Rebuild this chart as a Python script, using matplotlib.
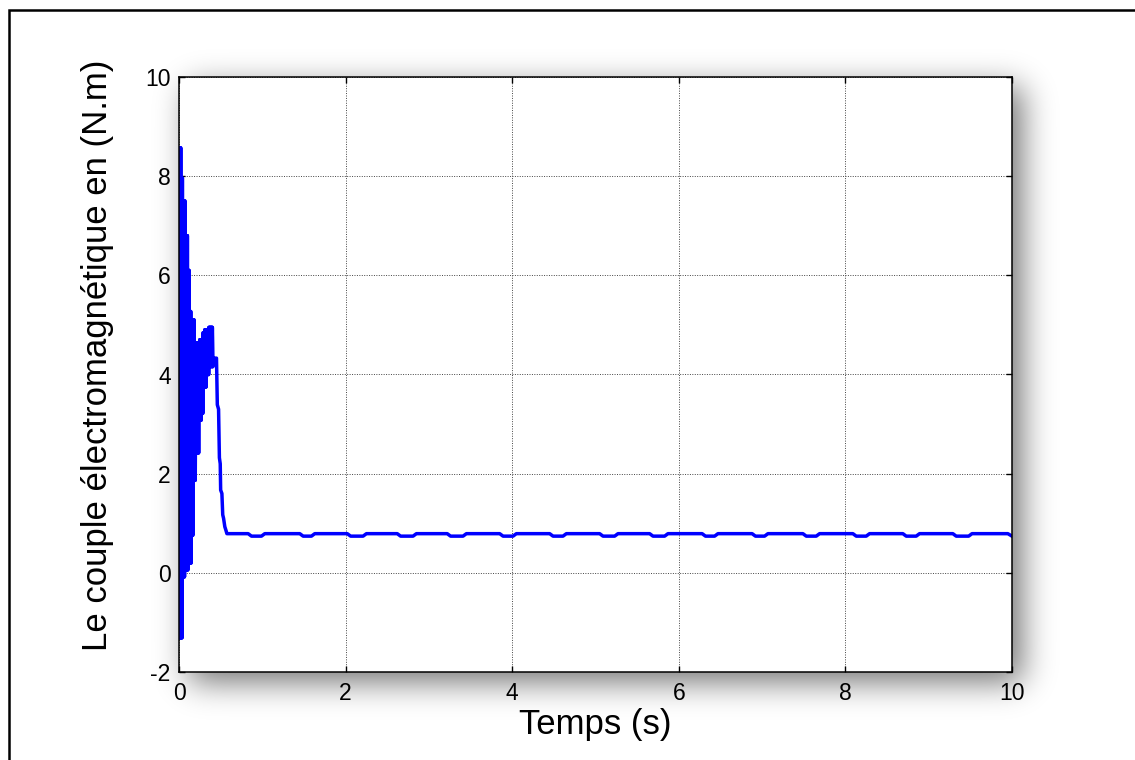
import numpy as np
import matplotlib
matplotlib.use("Agg")
import matplotlib.pyplot as plt
from matplotlib.collections import LineCollection

plt.rcParams['font.family'] = ['Liberation Sans', 'DejaVu Sans']
plt.rcParams['axes.unicode_minus'] = False
plt.rcParams['path.simplify'] = False

# --- data ---
# start-up: fast oscillation of the torque (s, N.m)
t_osc = [0.000, 0.005, 0.010, 0.015, 0.020, 0.025, 0.030, 0.035, 0.040, 0.045,
         0.050, 0.055, 0.060, 0.065, 0.070, 0.075, 0.080, 0.085, 0.090, 0.095,
         0.100, 0.105, 0.110, 0.115, 0.120, 0.125, 0.130, 0.135, 0.140, 0.145,
         0.150, 0.155, 0.160, 0.165, 0.170, 0.175, 0.180, 0.185, 0.190, 0.195,
         0.200, 0.205, 0.210, 0.215, 0.220, 0.225, 0.230, 0.235, 0.240, 0.245,
         0.250, 0.255, 0.260, 0.265, 0.270, 0.275, 0.280, 0.285, 0.290, 0.295,
         0.300, 0.305, 0.310, 0.315, 0.320, 0.325, 0.330, 0.335, 0.340, 0.345,
         0.350, 0.355, 0.360, 0.365, 0.370, 0.375, 0.380, 0.385, 0.390, 0.395,
         0.400, 0.405, 0.410]
te_osc = [8.57, -1.31, 8.57, -1.31, 8.57, -1.31, 7.96, -1.31, 7.96, -0.08,
          7.50, -0.08, 7.50, -0.08, 7.50, 0.06, 6.80, 0.06, 6.80, 0.06,
          6.80, 0.06, 6.10, 0.20, 6.10, 0.20, 5.27, 0.20, 5.27, 0.20,
          5.10, 0.76, 5.10, 0.76, 5.10, 1.87, 5.10, 1.87, 4.64, 1.87,
          4.64, 2.42, 4.64, 2.42, 4.64, 2.42, 4.64, 2.42, 4.64, 3.08,
          4.70, 3.08, 4.70, 3.08, 4.70, 3.22, 4.70, 3.22, 4.84, 3.75,
          4.84, 3.75, 4.90, 3.75, 4.90, 3.75, 4.90, 4.00, 4.90, 4.00,
          4.90, 4.00, 4.95, 4.16, 4.95, 4.16, 4.95, 4.16, 4.95, 4.16,
          4.95, 4.16, 4.33]

# drop towards steady state
t_drop = [0.450, 0.460, 0.475, 0.485, 0.495, 0.500, 0.515, 0.525, 0.535, 0.550, 0.565]
te_drop = [4.33, 3.39, 3.30, 2.32, 2.20, 1.67, 1.60, 1.17, 1.10, 0.93, 0.85]

# steady state with small ripple
t_ss = [0.575,
        0.83, 0.87, 0.99, 1.03,
        1.45, 1.49, 1.59, 1.63,
        2.02, 2.06, 2.21, 2.25,
        2.62, 2.66, 2.81, 2.85,
        3.22, 3.26, 3.41, 3.45,
        3.85, 3.89, 4.01, 4.05,
        4.45, 4.49, 4.61, 4.65,
        5.05, 5.09, 5.23, 5.27,
        5.65, 5.69, 5.83, 5.87,
        6.28, 6.32, 6.43, 6.47,
        6.88, 6.92, 7.03, 7.07,
        7.49, 7.53, 7.65, 7.69,
        8.09, 8.13, 8.25, 8.29,
        8.69, 8.73, 8.85, 8.89,
        9.29, 9.33, 9.48, 9.52,
        9.95, 10.0]
te_ss = [0.79,
         0.79, 0.74, 0.74, 0.79,
         0.79, 0.74, 0.74, 0.79,
         0.79, 0.74, 0.74, 0.79,
         0.79, 0.74, 0.74, 0.79,
         0.79, 0.74, 0.74, 0.79,
         0.79, 0.74, 0.74, 0.79,
         0.79, 0.74, 0.74, 0.79,
         0.79, 0.74, 0.74, 0.79,
         0.79, 0.74, 0.74, 0.79,
         0.79, 0.74, 0.74, 0.79,
         0.79, 0.74, 0.74, 0.79,
         0.79, 0.74, 0.74, 0.79,
         0.79, 0.74, 0.74, 0.79,
         0.79, 0.74, 0.74, 0.79,
         0.79, 0.74, 0.74, 0.79,
         0.79, 0.74]

x_ticks = [0, 2, 4, 6, 8, 10]
y_ticks = [-2, 0, 2, 4, 6, 8, 10]

t = np.array(t_osc + t_drop + t_ss)
te = np.array(te_osc + te_drop + te_ss)

# --- figure, pixel layout of the reference ---
W, H = 1135, 760
fig = plt.figure(figsize=(W / 100, H / 100), dpi=100)

ax_l, ax_r, ax_t, ax_b = 179, 1012, 77, 672

# background layer: soft drop shadow + page frame
bg = fig.add_axes([0, 0, 1, 1], zorder=-10)
bg.set_xlim(0, W)
bg.set_ylim(H, 0)
bg.axis('off')

mask = np.zeros((H, W))
off = 10
mask[ax_t + off:ax_b + off, ax_l + off:ax_r + off] = 1.0
sig = 16
k = np.exp(-0.5 * (np.arange(-3 * sig, 3 * sig + 1) / sig) ** 2)
k /= k.sum()
mask = np.apply_along_axis(lambda r: np.convolve(r, k, mode='same'), 1, mask)
mask = np.apply_along_axis(lambda c: np.convolve(c, k, mode='same'), 0, mask)
rgba = np.zeros((H, W, 4))
rgba[..., 3] = mask * 0.55
bg.imshow(rgba, extent=(0, W, H, 0), aspect='auto', interpolation='bilinear')

bg.plot([9, 9, W], [H, 10, 10], color='black', lw=1.8, solid_joinstyle='miter')

ax = fig.add_axes([ax_l / W, 1 - ax_b / H, (ax_r - ax_l) / W, (ax_b - ax_t) / H], zorder=1)
ax.set_facecolor('white')

ax.plot(t, te, color='#0000ff', lw=2.5, solid_joinstyle='round')
# the start-up oscillation as separate segments so the band fills solid
pts = np.column_stack([t_osc, te_osc])
segs = np.stack([pts[:-1], pts[1:]], axis=1)
ax.add_collection(LineCollection(segs, colors='#0000ff', linewidths=2.5, capstyle='round'))

ax.set_xlim(0, 10)
ax.set_ylim(-2, 10)
ax.set_xticks(x_ticks)
ax.set_yticks(y_ticks)
ax.grid(True, color='#444444', linestyle=(0, (1, 1.5)), linewidth=0.7)
ax.tick_params(direction='in', top=True, right=True, length=4.5, width=1.0,
               labelsize=16.5, colors='black')
ax.tick_params(axis='x', pad=7)
ax.tick_params(axis='y', pad=6)
for s in ax.spines.values():
    s.set_linewidth(1.1)

ax.set_xlabel('Temps (s)', fontsize=25, va='center')
ax.xaxis.set_label_coords(0.5, -0.089)
ax.set_ylabel('Le couple électromagnétique en (N.m)', fontsize=25, va='center')
ax.yaxis.set_label_coords(-0.0984, 0.533)

fig.savefig('out.png', dpi=100)
